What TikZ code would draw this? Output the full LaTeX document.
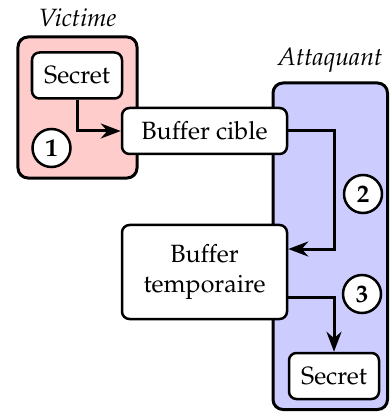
\documentclass[tikz,border=0pt]{standalone}
\usepackage[T1]{fontenc}
\usepackage{mathpazo}
\usetikzlibrary{arrows.meta}

\begin{document}
\begin{tikzpicture}[x=0.4pt,y=-0.4pt]
\tikzstyle{zone}=[draw=black,line width=1.2pt,rounded corners=4pt,inner sep=0pt]
\tikzstyle{bloc}=[draw=black,fill=white,line width=1pt,rounded corners=3pt,align=center,inner sep=0pt,minimum height=18.4pt]
\tikzstyle{etape}=[draw=black,fill=white,circle,line width=1pt,minimum size=15.2pt,inner sep=0pt,font=\bfseries]
\tikzstyle{fleche}=[line width=1.2pt,-{Stealth[length=8pt,width=6pt]}]
\useasboundingbox (0,0) rectangle (390,412);
\node [zone,fill=red!20,minimum width=47.6pt,minimum height=56.4pt,label={[font=\itshape]above:Victime}] (victime) at (77.5,107.5) {};
\node [zone,fill=blue!20,minimum width=45.8pt,minimum height=130.6pt,label={[font=\itshape]above:Attaquant}] (attaquant) at (330.25,246.25) {};
\node [bloc,minimum width=36pt] (secretv) at (77,75.5) {Secret};
\node [bloc,minimum width=66pt] (cible) at (204.5,131) {Buffer cible};
\node [bloc,minimum width=66pt,minimum height=37.6pt] (temp) at (204.5,272) {Buffer\\temporaire};
\node [bloc,minimum width=36pt] (secreta) at (334,376) {Secret};
\node [etape] (un) at (51.5,148) {1};
\node [etape] (deux) at (363,194) {2};
\node [etape] (trois) at (362,294) {3};
\draw [fleche] (secretv) |- (cible);
\draw [fleche] (cible) -- (cible -| secreta) |- ([yshift=9.2pt]temp.east);
\draw [fleche] ([yshift=-10pt]temp.east) -| (secreta);
\end{tikzpicture}
\end{document}
